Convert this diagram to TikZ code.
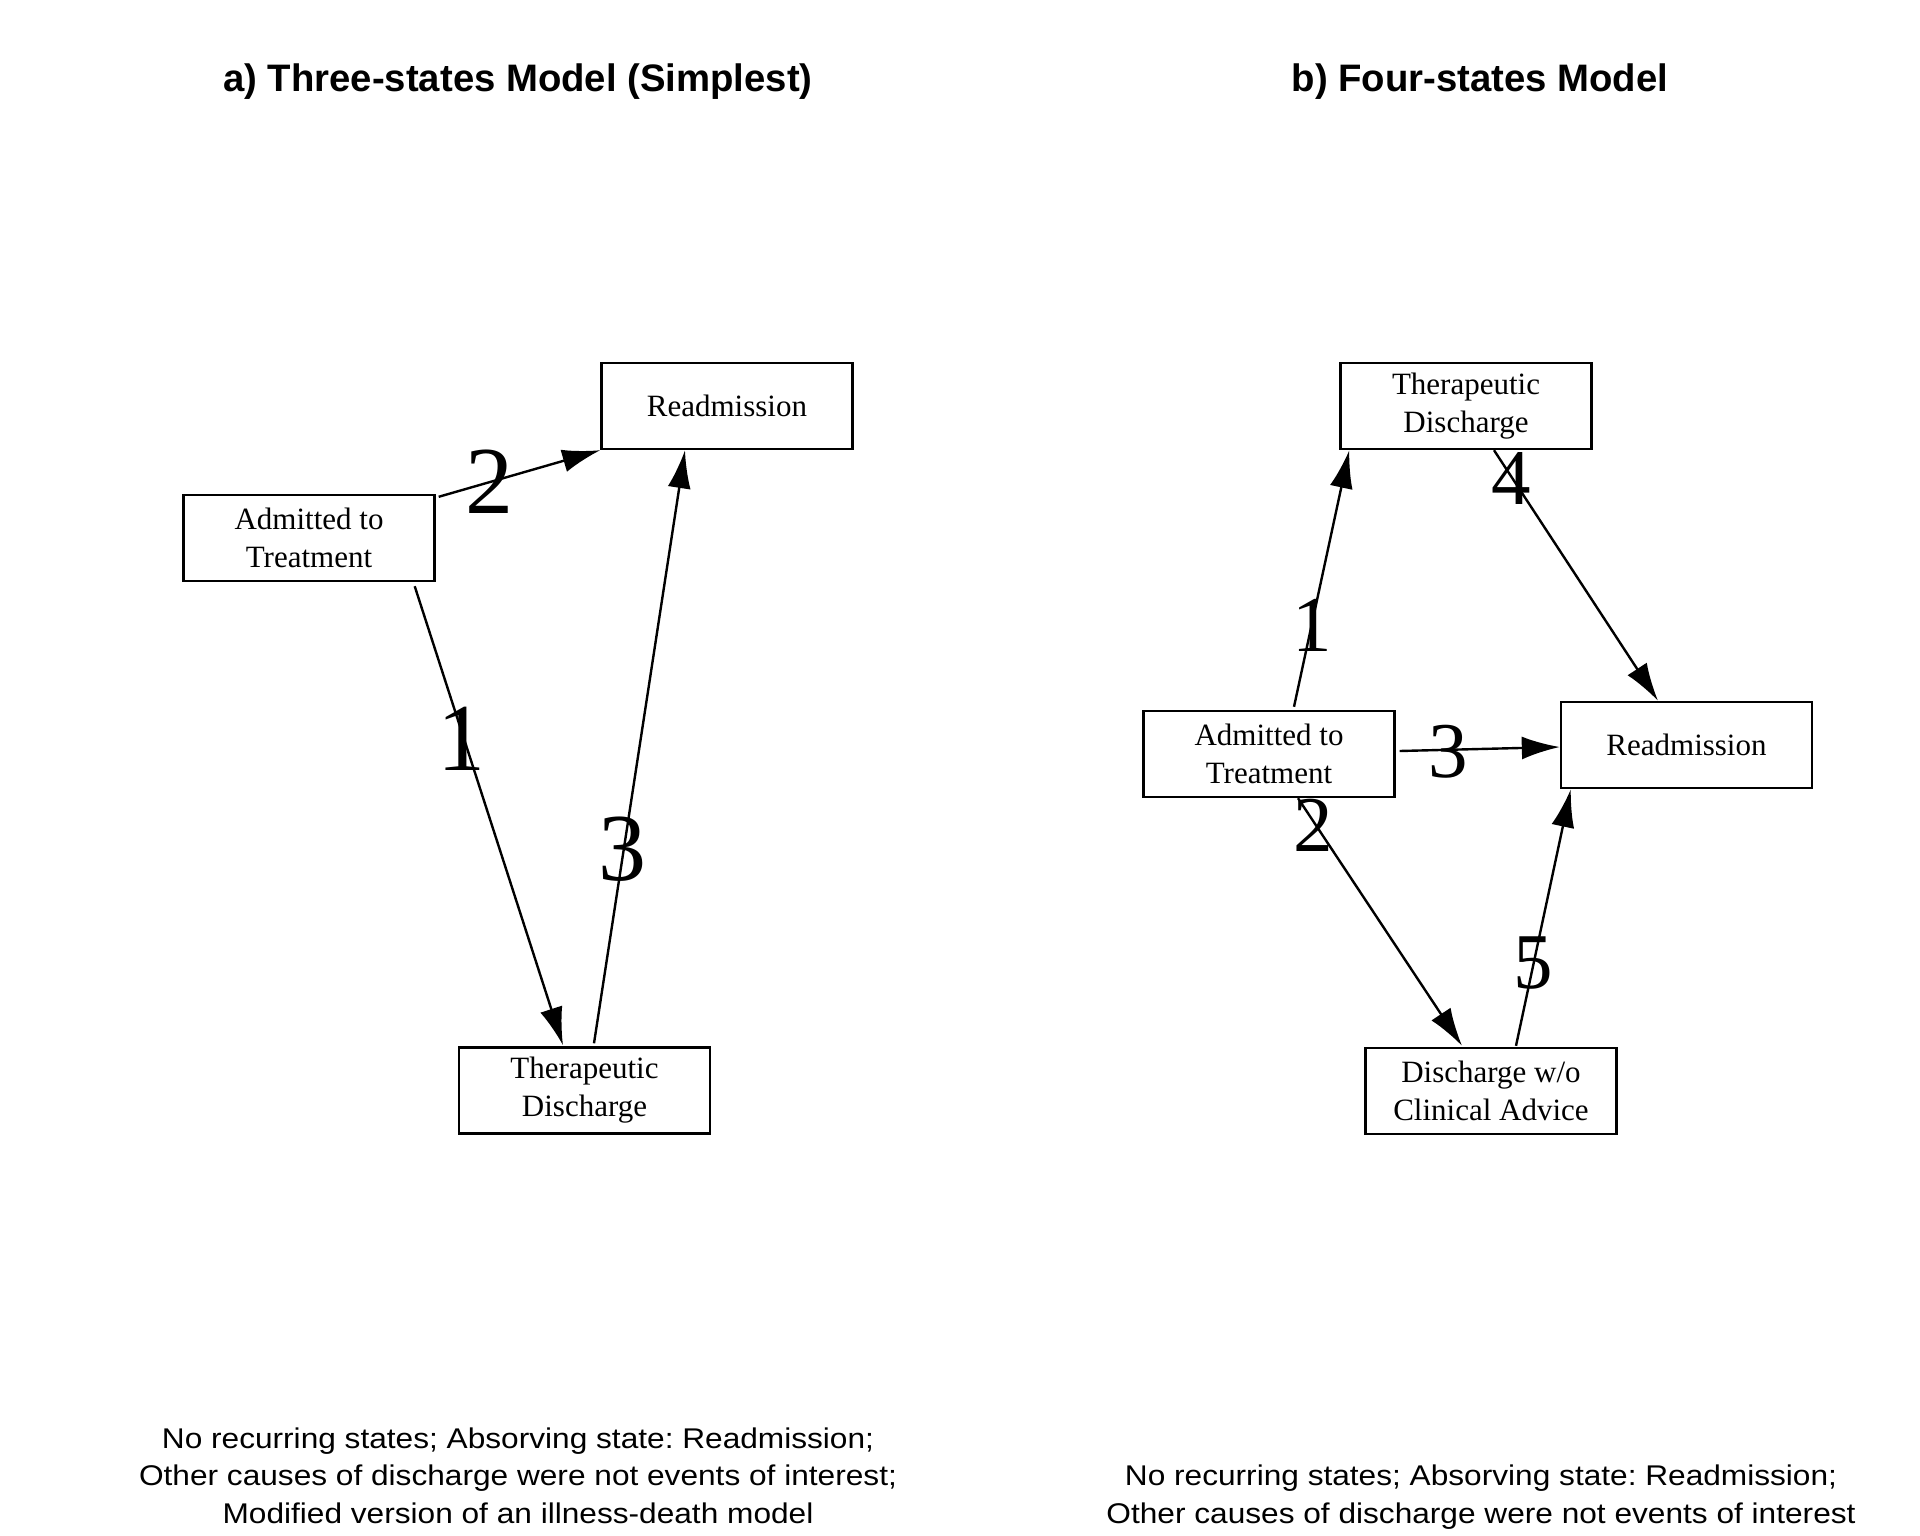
\documentclass[tikz,border=0pt]{standalone}
\usepackage{fontspec}
\setmainfont{Liberation Serif}
\newfontfamily\headfont{Liberation Sans}
\newfontfamily\notefont[FakeStretch=1.11]{Liberation Sans}
\usetikzlibrary{arrows.meta,calc}
\tikzset{state/.style={draw, rectangle, line width=2.4pt, minimum width=251pt, minimum height=86pt, inner sep=0pt, align=center, font=\fontsize{31}{38}\selectfont}}
\tikzset{trans/.style={line width=2.4pt, -{Latex[length=38pt,width=23pt]}}}
\tikzset{numA/.style={inner sep=0pt, font=\fontsize{96}{96}\selectfont}, numB/.style={inner sep=0pt, font=\fontsize{79}{79}\selectfont}}
\tikzset{head/.style={anchor=base, font=\headfont\bfseries\fontsize{38.3}{40}\selectfont}, note/.style={anchor=base, align=center, font=\notefont\fontsize{28.5}{37.5}\selectfont}}
\frenchspacing

\begin{document}
\begin{tikzpicture}[x=1pt,y=-1pt]
\useasboundingbox (0,0) rectangle (1920,1536);

%%a) three states
\node[head] (ta) at (518,92) {a) Three-states Model (Simplest)};
\node[state] (a0) at (309,538) {Admitted to\\Treatment};
\node[state] (a1) at (727,406) {Readmission};
\node[state] (a2) at (584.5,1090.5) {Therapeutic\\Discharge};
\draw[trans] ($(a0.south east)+(-21,4)$) -- ($(a2.north)+(-21.5,-1)$);
\draw[trans] ($(a0.north east)+(3,3)$) -- (a1.south west);
\draw[trans] ($(a2.north)+(9.5,-3)$) -- ($(a1.south)+(-42,0)$);
\node[numA] (n1) at (461,739) {1};
\node[numA] (n2) at (489,482) {2};
\node[numA] (n3) at (622,849) {3};
\node[note] (na) at (518,1523) {No recurring states; Absorving state: Readmission;\\Other causes of discharge were not events of interest;\\Modified version of an illness-death model};

%%b) four states
\node[head] (tb) at (1480,92) {b) Four-states Model};
\node[state] (b0) at (1269,754) {Admitted to\\Treatment};
\node[state] (b1) at (1466,406) {Therapeutic\\Discharge};
\node[state] (b2) at (1686.5,745) {Readmission};
\node[state] (b3) at (1491,1091) {Discharge w/o\\Clinical Advice};
\draw[trans] ($(b0.north)+(25,-3)$) -- ($(b1.south west)+(10,0)$);
\draw[trans] ($(b0.south)+(29,0)$) -- ($(b3.north)+(-29,-1)$);
\draw[trans] ($(b0.east)+(4,-3)$) -- ($(b2.west)+(0,2)$);
\draw[trans] ($(b1.south)+(28,0)$) -- ($(b2.north)+(-28.5,0)$);
\draw[trans] ($(b3.north)+(25,-1)$) -- ($(b2.south west)+(11,0)$);
\node[numB] (m1) at (1312,625) {1};
\node[numB] (m2) at (1313,825) {2};
\node[numB] (m3) at (1448,752) {3};
\node[numB] (m4) at (1511,478) {4};
\node[numB] (m5) at (1533,963) {5};
\node[note] (nb) at (1481,1523) {No recurring states; Absorving state: Readmission;\\Other causes of discharge were not events of interest};
\end{tikzpicture}
\end{document}
